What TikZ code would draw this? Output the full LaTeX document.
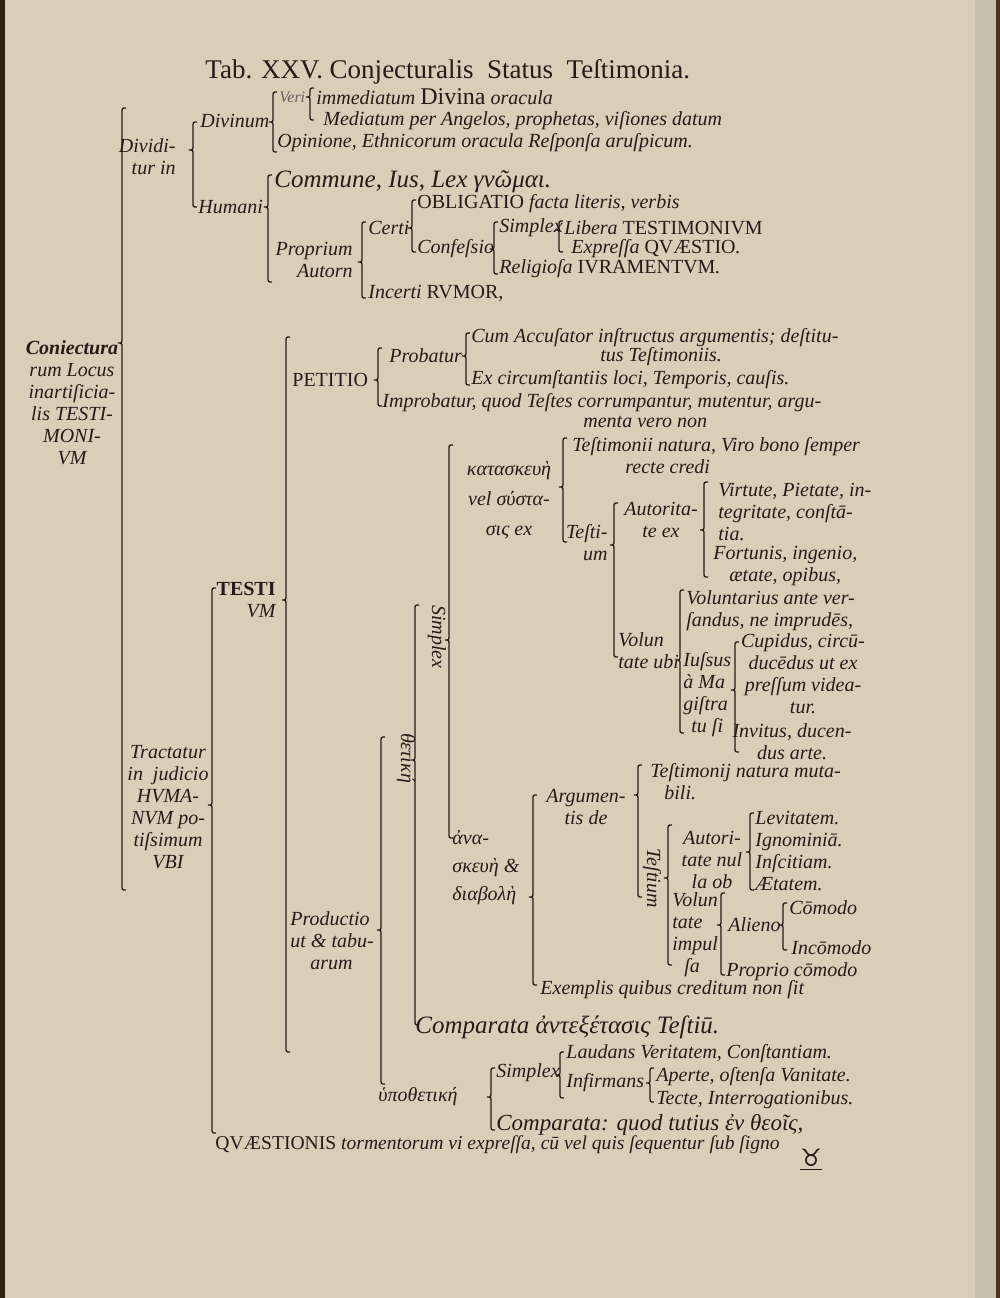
\documentclass[tikz,border=0pt]{standalone}
\usepackage{fontspec}
\setmainfont{Liberation Serif}
\newfontfamily\symfont{DejaVu Sans}
\definecolor{paper}{RGB}{217,206,184}
\definecolor{ink}{RGB}{38,27,22}
\newcommand{\brc}[4]{%
  \draw[brk] ({#1+4},{#2}) .. controls ({#1},{#2}) .. ({#1},{#2+5}) -- ({#1},{#3-5})
    .. controls ({#1},{#3}) .. ({#1-4},{#3}) .. controls ({#1},{#3}) .. ({#1},{#3+5})
    -- ({#1},{#4-5}) .. controls ({#1},{#4}) .. ({#1+4},{#4});}
\begin{document}
\begin{tikzpicture}[
  x=0.5pt, y=-0.5pt,
  it/.style={font=\fontsize{10}{11}\selectfont\itshape, text=ink, inner sep=0pt, anchor=west},
  up/.style={it, font=\fontsize{10}{11}\selectfont\upshape},
  big/.style={it, font=\fontsize{12.5}{13}\selectfont\itshape},
  rot/.style={it, anchor=center, rotate=-90},
  brk/.style={draw=ink, line width=0.65pt}
]
\useasboundingbox (0,0) rectangle (1000,1298);
\fill[paper] (0,0) rectangle (1000,1298);
\fill[black!75!brown] (0,0) rectangle (5,1298);
\fill[paper!80!gray] (975,0) rectangle (1000,1298);
\fill[black!60!brown] (996,0) rectangle (1000,1298);

\node[up, font=\fontsize{13.5}{15}\selectfont] (title) at (205,72) {Tab. XXV. Conjecturalis \ Status \ Teſtimonia.};

\node[it, anchor=center, align=center] (conj) at (72,403) {\textbf{Coniectura}\\rum Locus\\inartiſicia-\\lis TESTI-\\MONI-\\VM};
\brc{122}{108}{343}{890}

\node[it, anchor=east, align=right] (divid) at (176,157) {Dividi-\\tur in};
\brc{193}{122}{150}{207}
\node[it] (divinum) at (200,121) {Divinum};
\brc{273}{92}{122}{152}
\node[it, font=\fontsize{8}{9}\selectfont\itshape, text=ink!70] (veri) at (279,97) {Veri};
\brc{310}{88}{97}{120}
\node[it] (immed) at (316,97) {immediatum {\upshape\fontsize{12}{13}\selectfont Divina} oracula};
\node[it] (mediat) at (323,121) {Mediatum per Angelos, prophetas, viſiones datum};
\node[it] (opin) at (277,143) {Opinione, Ethnicorum oracula Reſponſa aruſpicum.};

\node[it] (humani) at (198,207) {Humani};
\brc{268}{175}{207}{282}
\node[big] (commune) at (274,182) {Commune, Ius, Lex γνῶμαι.};
\node[it, anchor=east, align=right] (propr) at (353,260) {Proprium\\Autorn};
\brc{362}{222}{262}{298}
\node[it] (certi) at (368,228) {Certi};
\brc{412}{200}{228}{252}
\node[it] (oblig) at (417,204) {{\upshape OBLIGATIO} facta literis, verbis};
\node[it] (confes) at (417,249) {Confeſsio};
\brc{494}{222}{249}{274}
\node[it] (simpa) at (499,228) {Simplex};
\brc{559}{221}{230}{252}
\node[it] (libera) at (564,228) {Libera {\upshape TESTIMONIVM}};
\node[it] (expr) at (571,249) {Expreſſa {\upshape QVÆSTIO}.};
\node[it] (relig) at (499,269) {Religioſa {\upshape IVRAMENTVM}.};
\node[it] (incerti) at (368,293) {Incerti {\upshape RVMOR},};

\node[up] (petitio) at (292,380) {PETITIO};
\brc{378}{348}{380}{406}
\node[it] (probatur) at (389,356) {Probatur};
\brc{466}{333}{356}{385}
\node[it] (cum) at (471,338) {Cum Accuſator inſtructus argumentis; deſtitu-};
\node[it] (cumb) at (600,357) {tus Teſtimoniis.};
\node[it] (excirc) at (471,380) {Ex circumſtantiis loci, Temporis, cauſis.};
\node[it] (improb) at (382,403) {Improbatur, quod Teſtes corrumpantur, mutentur, argu-};
\node[it] (improbb) at (583,422) {menta vero non};

\node[it, anchor=east, align=right] (testium) at (276,600) {{\upshape\bfseries TESTI}\\VM};
\brc{286}{337}{600}{1052}
\node[it, anchor=center, align=center] (tract) at (168,807) {Tractatur\\in \ judicio\\HVMA-\\NVM po-\\tiſsimum\\VBI};
\brc{212}{588}{805}{1133}

\node[it, align=left] (product) at (290,941) {Productio\\ut \& tabu-\\\hspace*{10pt}arum};
\brc{381}{737}{930}{1084}
\node[rot] (thetike) at (406,758) {θετική};
\brc{415}{605}{760}{1025}
\node[rot] (simpb) at (437,637) {Simplex};
\brc{449}{445}{640}{838}

\node[it, anchor=center, align=center] (katask) at (509,500) {κατασκευὴ\\[4pt]vel σύστα-\\[4pt]σις ex};
\brc{563}{438}{487}{542}
\node[it] (testnat) at (572,447) {Teſtimonii natura, Viro bono ſemper};
\node[it] (recte) at (625,467) {recte credi};
\node[it, anchor=east, align=right] (testi) at (608,543) {Teſti-\\um};
\brc{614}{503}{545}{657}
\node[it, anchor=center, align=center] (autor) at (661,520) {Autorita-\\te ex};
\brc{704}{482}{530}{577}
\node[it, align=left] (virtute) at (718,512) {Virtute, Pietate, in-\\tegritate, conſtā-\\tia.};
\node[it, align=left] (fortunis) at (713,566) {Fortunis, ingenio,\\\hspace*{8pt}ætate, opibus,};
\node[it, align=left] (volunt) at (618,651) {Volun\\tate ubi};
\brc{680}{590}{660}{733}
\node[it, align=left] (voluntar) at (686,611) {Voluntarius ante ver-\\ſandus, ne imprudēs,};
\node[it, align=left] (iussus) at (683,695) {Iuſsus\\à Ma\\giſtra\\\hspace*{4pt}tu ſi};
\brc{735}{642}{690}{752}
\node[it, anchor=center, align=center] (cupidus) at (803,674) {Cupidus, circū-\\ducēdus ut ex\\preſſum videa-\\tur.};
\node[it, anchor=center, align=center] (invitus) at (792,742) {Invitus, ducen-\\dus arte.};

\node[it, align=left] (anask) at (452,868) {ἀνα-\\[3pt]σκευὴ \&\\[3pt]διαβολὴ};
\brc{533}{795}{897}{985}
\node[it, anchor=center, align=center] (argum) at (586,807) {Argumen-\\tis de};
\brc{638}{765}{795}{897}
\node[it, align=left] (tnm) at (650,782) {Teſtimonij natura muta-\\\hspace*{7pt}bili.};
\node[rot] (testr) at (652,878) {Teſtium};
\brc{668}{825}{878}{965}
\node[it, anchor=center, align=center] (autnull) at (712,860) {Autori-\\tate nul\\la ob};
\brc{750}{813}{852}{890}
\node[it, align=left] (levit) at (755,851) {Levitatem.\\Ignominiā.\\Inſcitiam.\\Ætatem.};
\node[it, align=left] (volimp) at (672,935) {Volun\\tate\\impul\\\hspace*{6pt}ſa};
\brc{721}{893}{925}{975}
\node[it] (alieno) at (728,925) {Alieno};
\brc{783}{903}{925}{950}
\node[it] (comodo) at (789,908) {Cōmodo};
\node[it] (incomodo) at (791,948) {Incōmodo};
\node[it] (proprio) at (726,972) {Proprio cōmodo};
\node[it] (exempl) at (540,990) {Exemplis quibus creditum non ſit};

\node[big] (compara) at (415,1027) {Comparata ἀντεξέτασις Teſtiū.};

\node[it] (hypoth) at (378,1097) {ὑποθετική};
\brc{491}{1068}{1097}{1130}
\node[it] (simpc) at (496,1073) {Simplex};
\brc{560}{1052}{1075}{1098}
\node[it] (laudans) at (566,1054) {Laudans Veritatem, Conſtantiam.};
\node[it] (infirm) at (566,1083) {Infirmans};
\brc{650}{1068}{1083}{1102}
\node[it] (aperte) at (656,1077) {Aperte, oſtenſa Vanitate.};
\node[it] (tecte) at (656,1100) {Tecte, Interrogationibus.};
\node[big, font=\fontsize{11.5}{12}\selectfont\itshape] (comparb) at (496,1125) {Comparata: quod tutius ἐν θεοῖς,};

\node[it, font=\fontsize{9.8}{11}\selectfont\itshape] (quaest) at (215,1145) {{\upshape QVÆSTIONIS} tormentorum vi expreſſa, cū vel quis ſequentur ſub ſigno};
\node[it, font=\fontsize{12}{13}\selectfont\symfont] (signo) at (800,1160) {\underline{♉}};
\end{tikzpicture}
\end{document}
